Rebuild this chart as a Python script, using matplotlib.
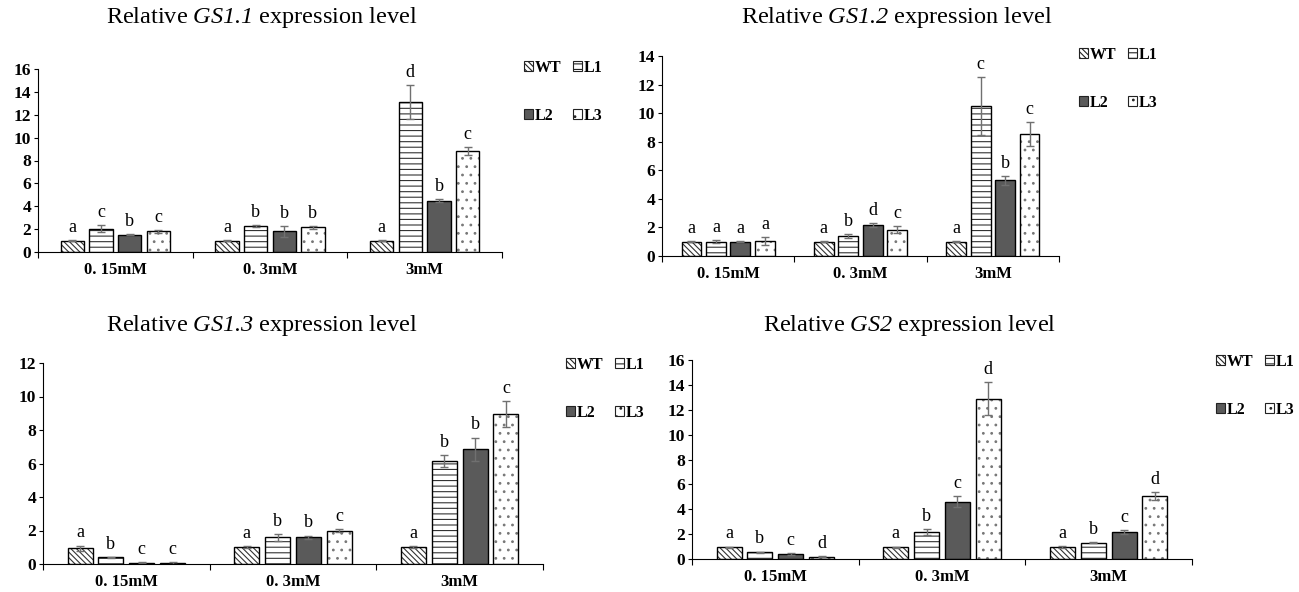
import numpy as np
import matplotlib
matplotlib.use("Agg")
import matplotlib.pyplot as plt
from matplotlib.patches import Patch

plt.rcParams['font.family'] = ['Liberation Serif', 'DejaVu Serif']
plt.rcParams['mathtext.fontset'] = 'custom'
plt.rcParams['mathtext.rm'] = 'Liberation Serif:italic'
plt.rcParams['mathtext.it'] = 'Liberation Serif:italic'
plt.rcParams['hatch.linewidth'] = 0.8

lines = ['WT', 'L1', 'L2', 'L3']
groups = ['0. 15mM', '0. 3mM', '3mM']

# values per line: [0.15mM, 0.3mM, 3mM]
gs11 = [[1.0, 1.0, 1.0], [2.05, 2.25, 13.1], [1.5, 1.8, 4.5], [1.8, 2.15, 8.85]]
gs11_err = [[0.03, 0.05, 0.03], [0.3, 0.1, 1.5], [0.05, 0.45, 0.1], [0.1, 0.1, 0.35]]
gs11_sig = [['a', 'a', 'a'], ['c', 'b', 'd'], ['b', 'b', 'b'], ['c', 'b', 'c']]

gs12 = [[1.0, 1.0, 1.0], [1.0, 1.4, 10.5], [1.0, 2.15, 5.3], [1.05, 1.85, 8.55]]
gs12_err = [[0.03, 0.05, 0.05], [0.1, 0.15, 2.05], [0.05, 0.15, 0.3], [0.25, 0.25, 0.85]]
gs12_sig = [['a', 'a', 'a'], ['a', 'b', 'c'], ['a', 'd', 'b'], ['a', 'c', 'c']]

gs13 = [[0.95, 1.0, 1.0], [0.4, 1.6, 6.15], [0.08, 1.6, 6.85], [0.05, 2.0, 8.95]]
gs13_err = [[0.15, 0.05, 0.05], [0.03, 0.2, 0.35], [0.03, 0.1, 0.7], [0.05, 0.1, 0.8]]
gs13_sig = [['a', 'a', 'a'], ['b', 'b', 'b'], ['c', 'b', 'b'], ['c', 'c', 'c']]

gs2 = [[0.95, 0.95, 0.95], [0.55, 2.15, 1.3], [0.4, 4.6, 2.15], [0.2, 12.9, 5.05]]
gs2_err = [[0.05, 0.05, 0.1], [0.05, 0.25, 0.05], [0.05, 0.45, 0.15], [0.05, 1.35, 0.3]]
gs2_sig = [['a', 'a', 'a'], ['b', 'b', 'b'], ['c', 'c', 'c'], ['d', 'd', 'd']]

# fill, hatch, hatch colour
styles = [('white', '\\\\\\\\\\\\', '#333333'),
          ('white', '---', '#333333'),
          ('#5a5a5a', None, '#5a5a5a'),
          ('white', '..', '#777777')]

W, H = 1299, 592
fig = plt.figure(figsize=(W / 100, H / 100), dpi=100)


def rect(l, r, y0, ytop):
    return [l / W, 1 - y0 / H, (r - l) / W, (y0 - ytop) / H]


def panel(box, vals, errs, sigs, ymax, gene, title_xy, leg_xy):
    ax = fig.add_axes(rect(*box))
    x = np.arange(3) + 0.5
    pitch, width = 0.185, 0.15
    for i in range(4):
        fc, hatch, hc = styles[i]
        pos = x + (i - 1.5) * pitch
        # hatch layer, then black outline + error bars on top
        ax.bar(pos, vals[i], width, facecolor=fc, edgecolor=hc, hatch=hatch, linewidth=0)
        ax.bar(pos, vals[i], width, facecolor='none', edgecolor='black', linewidth=1.0,
               yerr=errs[i], capsize=3,
               error_kw=dict(ecolor='#707070', elinewidth=1.0, capthick=1.0))
        for j in range(3):
            ax.annotate(sigs[i][j], (pos[j], vals[i][j] + errs[i][j]),
                        xytext=(0, 3), textcoords='offset points',
                        ha='center', va='bottom', fontsize=13)
    ax.set_xlim(0, 3)
    ax.set_ylim(0, ymax)
    ax.set_yticks(range(0, ymax + 1, 2))
    ax.set_xticks([0, 1, 2, 3])
    ax.set_xticklabels([])
    ax.set_xticks(x, minor=True)
    ax.set_xticklabels(groups, minor=True, fontweight='bold', fontsize=12)
    ax.tick_params(axis='x', which='minor', length=0, pad=7)
    ax.tick_params(axis='x', which='major', length=4, direction='out')
    ax.tick_params(axis='y', length=3, direction='out', pad=2, labelsize=12.5)
    for lab in ax.get_yticklabels():
        lab.set_fontweight('bold')
    ax.spines['top'].set_visible(False)
    ax.spines['right'].set_visible(False)

    fig.text(title_xy[0] / W, 1 - title_xy[1] / H,
             r'Relative $' + gene + r'$ expression level',
             ha='center', va='center', fontsize=17.5)

    handles = [Patch(facecolor=styles[i][0], hatch=styles[i][1], edgecolor='#222222',
                     linewidth=0.8) for i in range(4)]
    order = [0, 2, 1, 3]
    fig.legend([handles[k] for k in order], [lines[k] for k in order],
               loc='upper left', bbox_to_anchor=(leg_xy[0] / W, 1 - leg_xy[1] / H),
               ncol=2, frameon=False, handlelength=0.55, handleheight=0.6,
               handletextpad=0.15, columnspacing=0.7, labelspacing=2.0,
               borderpad=0, borderaxespad=0,
               prop=dict(family='Liberation Serif', weight='bold', size=11.5))
    return ax


panel((38, 502, 252, 69), gs11, gs11_err, gs11_sig, 16, 'GS1.1', (262, 18), (524, 60))
panel((662, 1059, 256, 56), gs12, gs12_err, gs12_sig, 14, 'GS1.2', (897, 18), (1079, 47))
panel((43, 543, 564, 363), gs13, gs13_err, gs13_sig, 12, 'GS1.3', (262, 325), (566, 357))
panel((692, 1192, 559, 360), gs2, gs2_err, gs2_sig, 16, 'GS2', (910, 325), (1216, 354))

fig.savefig('out.png', dpi=100)
